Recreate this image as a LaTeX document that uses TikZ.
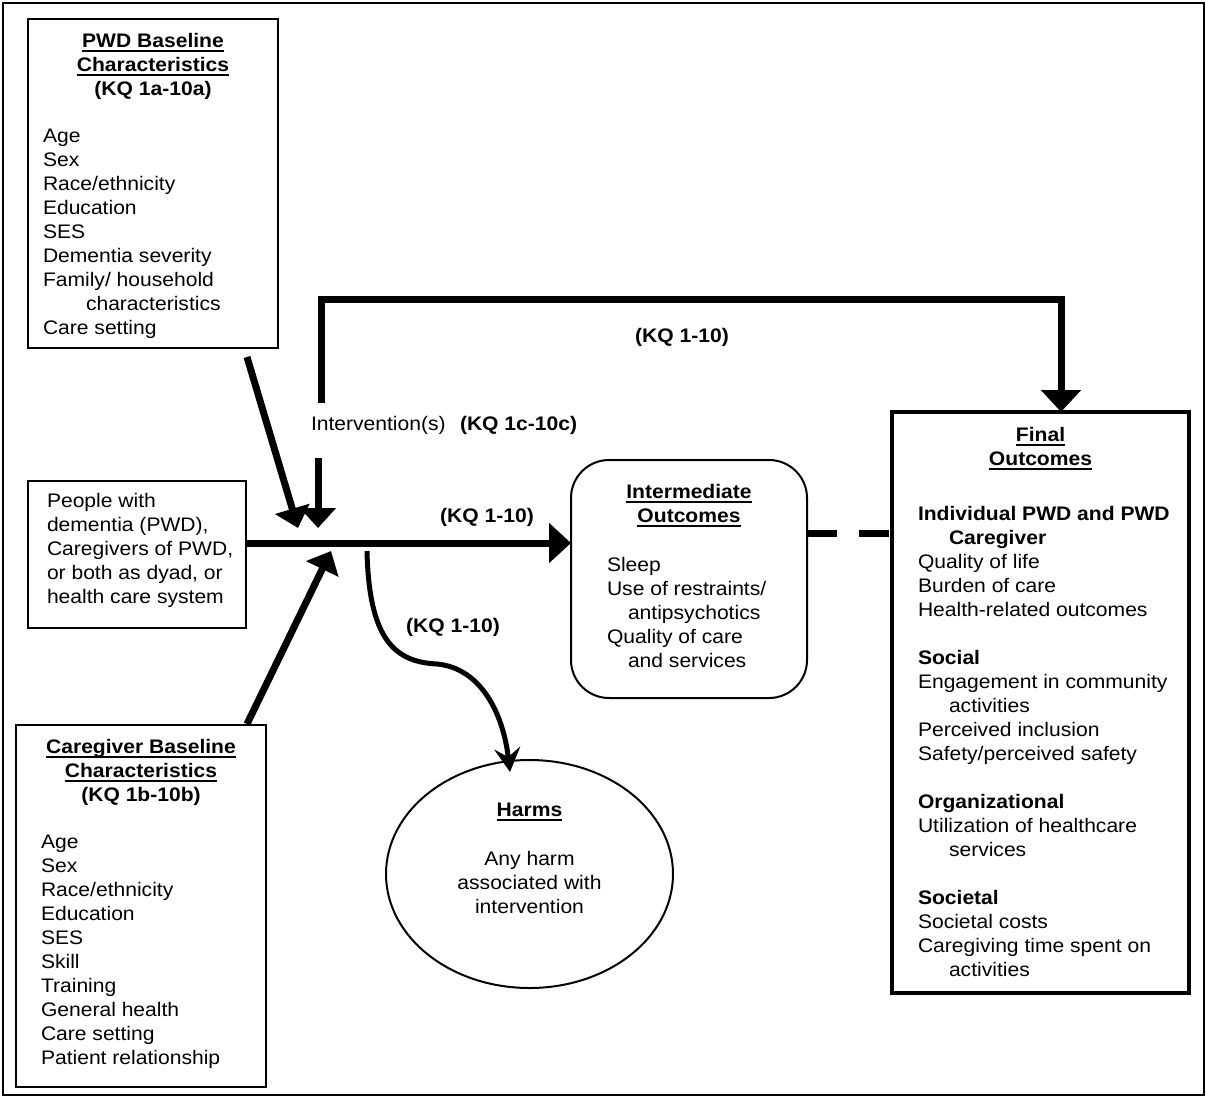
\documentclass[tikz,border=0pt]{standalone}
\usepackage{fontspec}
\setmainfont{Liberation Sans}[FakeStretch=1.075]
\usetikzlibrary{arrows.meta,shapes.geometric}
\newcommand\myul[1]{\setbox0\hbox{#1}\rlap{\rule[-5pt]{\wd0}{1.8pt}}\box0}
\newcommand\txtlines[3]{\foreach \t [count=\i] in {#3} {\node[txt] at (#1, {#2+24*\i-24}) {\t};}}
\begin{document}
\begin{tikzpicture}[x=1pt,y=-1pt,
  every node/.style={font=\fontsize{19.6}{24}\selectfont, inner sep=0pt, outer sep=0pt},
  txt/.style={anchor=base west},
  ctr/.style={anchor=base},
  box/.style={draw, line width=2.2pt, rectangle},
  conn/.style={line width=7pt},
  bighead/.style={-{Triangle[length=22pt,width=39pt]}},
  smallhead/.style={-{Triangle[length=20pt,width=35pt]}}
]
\useasboundingbox (0,0) rectangle (1206,1098);
\draw[line width=1.5pt] (3,3) rectangle (1204,1095);

% boxes
\node[box, minimum width=250pt, minimum height=329pt] (pwd) at (153,183.5) {};
\node[box, line width=2pt, minimum width=218pt, minimum height=147pt] (ppl) at (137,554.5) {};
\node[box, line width=2.5pt, minimum width=250pt, minimum height=362pt] (cg) at (141,906) {};
\node[draw, line width=2pt, rounded corners=38pt, minimum width=236pt, minimum height=238pt] (inter) at (689,579) {};
\node[box, line width=4pt, minimum width=297pt, minimum height=581pt] (fin) at (1040.5,702.5) {};
\node[draw, ellipse, line width=2pt, minimum width=287pt, minimum height=228pt] (harms) at (529.5,874) {};

% PWD box text
\node[ctr] at (153,47) {\textbf{\myul{PWD Baseline}}};
\node[ctr] at (153,71) {\textbf{\myul{Characteristics}}};
\node[ctr] at (153,95) {\textbf{(KQ 1a-10a)}};
\txtlines{43}{142}{Age,Sex,Race/ethnicity,Education,SES,Dementia severity,Family/ household,{\hspace*{43pt}characteristics},Care setting}

% People box text
\txtlines{47}{507}{People with,{dementia (PWD),},{Caregivers of PWD,},{or both as dyad, or},health care system}

% Caregiver box text
\node[ctr] at (141,753) {\textbf{\myul{Caregiver Baseline}}};
\node[ctr] at (141,777) {\textbf{\myul{Characteristics}}};
\node[ctr] at (141,801) {\textbf{(KQ 1b-10b)}};
\txtlines{41}{848}{Age,Sex,Race/ethnicity,Education,SES,Skill,Training,General health,Care setting,Patient relationship}

% Intermediate text
\node[ctr] at (689,498) {\textbf{\myul{Intermediate}}};
\node[ctr] at (689,522) {\textbf{\myul{Outcomes}}};
\txtlines{607}{571}{Sleep,Use of restraints/,{\hspace*{21pt}antipsychotics},Quality of care,{\hspace*{21pt}and services}}

% Final text
\node[ctr] at (1040.5,441) {\textbf{\myul{Final}}};
\node[ctr] at (1040.5,465) {\textbf{\myul{Outcomes}}};
\txtlines{918}{520}{{\textbf{Individual PWD and PWD}},{\hspace*{31pt}\textbf{Caregiver}},Quality of life,Burden of care,Health-related outcomes,{},{\textbf{Social}},Engagement in community,{\hspace*{31pt}activities},Perceived inclusion,Safety/perceived safety,{},{\textbf{Organizational}},Utilization of healthcare,{\hspace*{31pt}services},{},{\textbf{Societal}},Societal costs,Caregiving time spent on,{\hspace*{31pt}activities}}

% Harms text
\node[ctr] at (529.5,816) {\textbf{\myul{Harms}}};
\node[ctr] at (529.5,865) {Any harm};
\node[ctr] at (529.5,889) {associated with};
\node[ctr] at (529.5,913) {intervention};

% labels
\node[txt] (intv) at (311,430) {Intervention(s)};
\node[txt] (intvkq) at (460,430) {\textbf{(KQ 1c-10c)}};
\node[ctr] (kqtop) at (682,342) {\textbf{(KQ 1-10)}};
\node[ctr] (kqmid) at (487,522) {\textbf{(KQ 1-10)}};
\node[ctr] (kqlow) at (453,632) {\textbf{(KQ 1-10)}};

% coordinates
\coordinate (ms) at (246,543);
\coordinate (pwdS) at (247,357);
\coordinate (pwdT) at (298,528);
\coordinate (ivS) at (318,458);
\coordinate (ivT) at (318,528);
\coordinate (cgS) at (247,724);
\coordinate (cgT) at (331,551);
\coordinate (topL) at (321,403);
\coordinate (topR) at (1061,299);
\coordinate (finTop) at (1061,412);
\coordinate (dy) at (0,533);
\coordinate (hs) at (367,551);
\coordinate (hT) at (510,772);

% connectors
\draw[conn, bighead] (ms) -- (ms -| inter.west);
\draw[conn, smallhead] (pwdS) -- (pwdT);
\draw[conn, smallhead] (ivS) -- (ivT);
\draw[conn, smallhead] (cgS) -- (cgT);
\draw[conn, bighead] (topL) |- (topR) -- (finTop);
\draw[conn, dash pattern=on 30pt off 22pt] (inter.east |- dy) -- (fin.west |- dy);
\draw[line width=5pt, -{Stealth[length=24pt,width=26pt,inset=9pt]}] (hs) .. controls (369,640) and (395,662) .. (437,664) .. controls (480,668) and (503,712) .. (hT);
\end{tikzpicture}
\end{document}
